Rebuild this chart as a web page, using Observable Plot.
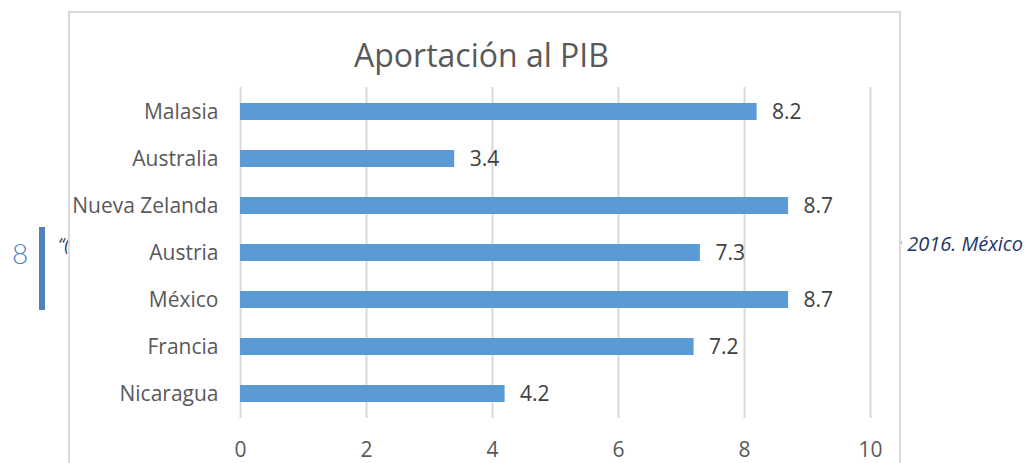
<!DOCTYPE html>
<html>
<head>
<meta charset="utf-8">
<script src="https://cdn.jsdelivr.net/npm/d3@7"></script>
<script src="https://cdn.jsdelivr.net/npm/@observablehq/plot@0.6"></script>
<style>
  html, body { margin: 0; padding: 0; background: #fff; }
  #page { position: relative; width: 1031px; height: 463px; overflow: hidden; font-family: "Open Sans", Lato, sans-serif; }
  .doc { position: absolute; white-space: nowrap; }
  #num { left: 12px; top: 239px; font-size: 28px; color: #4f81bd; font-weight: 300; line-height: 1; font-family: Lato, sans-serif; }
  #vbar { left: 39px; top: 227px; width: 6px; height: 83px; background: #4f81bd; }
  #quoteL { left: 58px; top: 235px; font-size: 18px; font-style: italic; color: #1f3864; line-height: 1; }
  #quoteR { left: 892px; top: 234px; font-size: 20px; font-style: italic; color: #1f3864; line-height: 1; }
  #box { position: absolute; left: 68px; top: 11px; width: 829px; height: 480px; border: 2px solid #d9d9d9; background: #fff; z-index: 1; }
  #chart { position: absolute; left: 0; top: 0; z-index: 2; }
  #title { position: absolute; left: 0; width: 963px; text-align: center; top: 39px; font-size: 32px; color: #595959; line-height: 1; z-index: 3; font-family: "Open Sans", sans-serif; }
</style>
</head>
<body>
<div id="page">
  <div class="doc" id="num">8</div>
  <div class="doc" id="vbar"></div>
  <div class="doc" id="quoteL">“(</div>
  <div class="doc" id="quoteR">e 2016. México</div>
  <div id="box"></div>
  <div id="title">Aportación al PIB</div>
  <div id="chart"></div>
</div>
<script>
const categories = ["Malasia", "Australia", "Nueva Zelanda", "Austria", "México", "Francia", "Nicaragua"];
const values = [8.2, 3.4, 8.7, 7.3, 8.7, 7.2, 4.2];
const xTicks = [0, 2, 4, 6, 8, 10];

const data = categories.map((c, i) => ({category: c, value: values[i]}));

const chart = Plot.plot({
  width: 1031,
  height: 463,
  marginLeft: 240,
  marginRight: 161,
  marginTop: 87,
  marginBottom: 45,
  style: {background: "transparent", fontFamily: "'Open Sans', sans-serif"},
  x: {domain: [0, 10], label: null},
  y: {domain: categories, paddingInner: 0.64, paddingOuter: 0.32, label: null},
  marks: [
    Plot.gridX(xTicks, {stroke: "#d9d9d9", strokeOpacity: 1, strokeWidth: 2}),
    Plot.barX(data, {x: "value", y: "category", fill: "#5b9bd5"}),
    Plot.text(data, {x: "value", y: "category", text: d => d.value.toFixed(1), dx: 15, textAnchor: "start", fill: "#404040", fontSize: 21}),
    Plot.axisX(xTicks, {tickSize: 0, tickPadding: 24, fontSize: 21, fill: "#595959", label: null}),
    Plot.axisY({tickSize: 0, tickPadding: 22, fontSize: 21, fill: "#595959", label: null})
  ]
});
document.getElementById("chart").appendChild(chart);
</script>
</body>
</html>
